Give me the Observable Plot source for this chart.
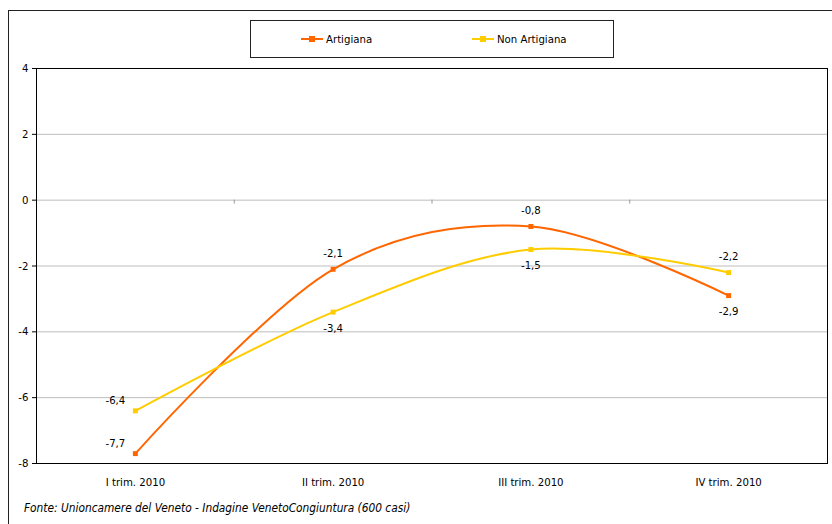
<!DOCTYPE html>
<html>
<head>
<meta charset="utf-8">
<script src="https://cdn.jsdelivr.net/npm/d3@7"></script>
<script src="https://cdn.jsdelivr.net/npm/@observablehq/plot@0.6"></script>
<style>
  body { margin: 0; background: #fff; }
  #wrap { position: relative; width: 832px; height: 524px; overflow: hidden;
          font-family: "DejaVu Sans Condensed", "DejaVu Sans", sans-serif; color: #000; }
  #frame { position: absolute; left: 8px; top: 10px; width: 900px; height: 600px;
           border-left: 1.5px solid #222; border-top: 1.5px solid #222; pointer-events: none; }
  #chart { position: absolute; left: 0; top: 0; }
  #legend { position: absolute; left: 250px; top: 20px; width: 362px; height: 36px;
            border: 1px solid #222; background: #fff; font-size: 11.3px; }
  .item { position: absolute; top: 0; height: 36px; display: flex; align-items: center; }
  .sw { position: relative; width: 22px; height: 2px; margin-right: 3px; }
  .sw i { position: absolute; left: 8px; top: -2px; width: 6px; height: 6px; }
  #caption { position: absolute; left: 24px; top: 501px; font-size: 11.8px; font-style: italic; white-space: nowrap; }
</style>
</head>
<body>
<div id="wrap">
  <div id="chart"></div>
  <div id="frame"></div>
  <div id="legend"></div>
  <div id="caption"></div>
</div>
<script>
// ---- data ----
const categories = ["I trim. 2010", "II trim. 2010", "III trim. 2010", "IV trim. 2010"];
const seriesNames = ["Artigiana", "Non Artigiana"];
const artigiana = [-7.7, -2.1, -0.8, -2.9];
const nonArtigiana = [-6.4, -3.4, -1.5, -2.2];
const yTicks = [-8, -6, -4, -2, 0, 2, 4];
const captionText = "Fonte: Unioncamere del Veneto - Indagine VenetoCongiuntura (600 casi)";

// ---- styling / placement (not data) ----
const colors = ["#FF6600", "#FFCC00"];
const labelPlacement = {
  "Artigiana": ["left", "above", "above", "below"],
  "Non Artigiana": ["left", "below", "below", "above"]
};

const rows = [];
[artigiana, nonArtigiana].forEach((vals, s) => {
  vals.forEach((v, i) => rows.push({
    series: seriesNames[s], x: i + 0.5, value: v, pos: labelPlacement[seriesNames[s]][i]
  }));
});
const fmt = v => v.toFixed(1).replace(".", ",");

const fontSize = 11.3;
const plot = Plot.plot({
  width: 832,
  height: 495,
  marginLeft: 36,
  marginRight: 5,
  marginTop: 68,
  marginBottom: 32,
  style: { fontFamily: '"DejaVu Sans Condensed", "DejaVu Sans", sans-serif', fontSize: fontSize + "px", background: "transparent" },
  x: { type: "linear", domain: [0, categories.length], label: null },
  y: { domain: [yTicks[0], yTicks[yTicks.length - 1]], label: null },
  color: { domain: seriesNames, range: colors },
  marks: [
    Plot.ruleY(yTicks.filter(d => d > yTicks[0] && d < yTicks[yTicks.length - 1]), { stroke: "#bdbdbd", strokeWidth: 1 }),
    Plot.ruleX(d3.range(1, categories.length), { y1: 0, y2: -0.12, stroke: "#999" }),
    Plot.frame({ stroke: "#000", strokeWidth: 1 }),
    Plot.axisY({ ticks: yTicks, tickFormat: d => String(d), tickSize: 4, tickPadding: 4, fontSize: fontSize, stroke: "#000", label: null }),
    Plot.axisX({ ticks: categories.map((c, i) => i + 0.5), tickFormat: d => categories[Math.floor(d)], tickSize: 0, tickPadding: 14, fontSize: fontSize, label: null }),
    Plot.line(rows, { x: "x", y: "value", z: "series", stroke: "series", curve: "cardinal", strokeWidth: 2 }),
    Plot.dot(rows, { x: "x", y: "value", fill: "series", symbol: "square", r: 2.8, stroke: null }),
    Plot.text(rows.filter(d => d.pos === "above"), { x: "x", y: "value", text: d => fmt(d.value), dy: -16, fill: "#000" }),
    Plot.text(rows.filter(d => d.pos === "below"), { x: "x", y: "value", text: d => fmt(d.value), dy: 16, fill: "#000" }),
    Plot.text(rows.filter(d => d.pos === "left"), { x: "x", y: "value", text: d => fmt(d.value), dx: -20, dy: -10, fill: "#000" })
  ]
});
document.getElementById("chart").appendChild(plot);

// legend
const legend = document.getElementById("legend");
const legendX = [50, 221];
seriesNames.forEach((name, i) => {
  const item = document.createElement("div");
  item.className = "item";
  item.style.left = legendX[i] + "px";
  item.innerHTML = `<span class="sw" style="background:${colors[i]}"><i style="background:${colors[i]}"></i></span><span>${name}</span>`;
  legend.appendChild(item);
});
document.getElementById("caption").textContent = captionText;
</script>
</body>
</html>
